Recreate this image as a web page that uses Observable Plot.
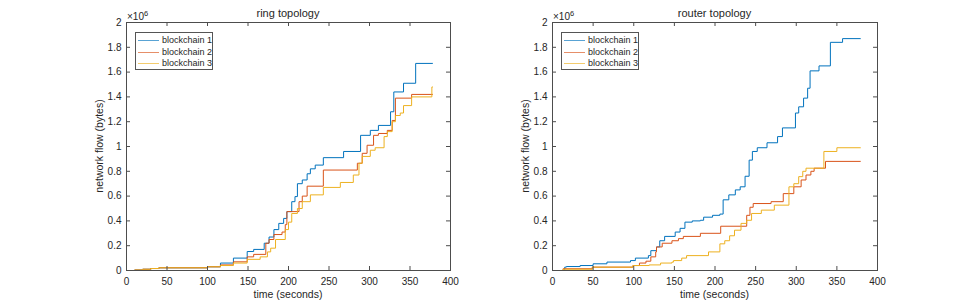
<!DOCTYPE html>
<html><head><meta charset="utf-8">
<script src="https://cdn.jsdelivr.net/npm/d3@7"></script>
<script src="https://cdn.jsdelivr.net/npm/@observablehq/plot@0.6"></script>
<style>
body{margin:0;background:#fff;}
#wrap{position:relative;width:969px;height:304px;font-family:"Liberation Sans",Arial,sans-serif;color:#262626;overflow:hidden;}
.abs{position:absolute;white-space:nowrap;}
.title{font-size:11px;line-height:11px;text-align:center;}
.xlab{font-size:10.5px;line-height:11px;text-align:center;}
.ylab{font-size:10.5px;line-height:11px;text-align:center;transform:translate(-50%,-50%) rotate(-90deg);}
.expo{font-size:10px;line-height:10px;}
.expo span{position:relative;top:-4px;font-size:7.5px;}
.legend{box-sizing:border-box;border:1px solid #555;background:#fff;font-size:9px;padding-top:2px;}
.row{height:11.6px;line-height:11.6px;display:flex;align-items:center;}
.sw{display:inline-block;width:22px;height:0;border-top:1.5px solid;opacity:0.65;margin-left:2px;margin-right:3px;}
</style>
</head><body><div id="wrap"></div>
<script>
// ---- data (values in units of 10^6 bytes) ----
const seriesNames = ["blockchain 1", "blockchain 2", "blockchain 3"];
const seriesColors = ["#0072BD", "#D95319", "#EDB120"];
const xTicks = [0, 50, 100, 150, 200, 250, 300, 350, 400];
const yTicks = [0, 0.2, 0.4, 0.6, 0.8, 1, 1.2, 1.4, 1.6, 1.8, 2];
const panelTitles = ["ring topology", "router topology"];

// ring topology
const ringT1 = [0,10,20,30,40,100,116,132,149,157,170,176,182,188,194,198,204,208,211,217,223,227,233,243,268,289,301,311,326,330,342,357,378];
const ringV1 = [0,0.004,0.01,0.016,0.022,0.03,0.06,0.10,0.153,0.17,0.22,0.27,0.33,0.38,0.42,0.475,0.555,0.596,0.70,0.73,0.78,0.82,0.85,0.91,0.96,1.09,1.13,1.17,1.28,1.44,1.51,1.67,1.67];
const ringT2 = [0,10,20,30,40,100,116,132,149,157,172,176,182,192,196,198,213,217,223,243,285,291,297,305,311,322,328,332,352,378];
const ringV2 = [0,0.004,0.01,0.016,0.022,0.03,0.045,0.07,0.11,0.13,0.22,0.25,0.29,0.31,0.37,0.475,0.555,0.6,0.68,0.81,0.865,0.945,1.01,1.09,1.105,1.13,1.21,1.39,1.42,1.42];
const ringT3 = [0,10,20,30,40,100,116,132,149,165,174,178,184,196,200,204,211,217,227,243,264,280,287,291,301,307,318,322,328,332,338,342,352,377,378];
const ringV3 = [0,0.004,0.01,0.016,0.022,0.03,0.04,0.06,0.09,0.11,0.15,0.18,0.25,0.33,0.39,0.46,0.50,0.555,0.61,0.67,0.71,0.77,0.865,0.92,0.97,0.99,1.08,1.12,1.2,1.25,1.27,1.33,1.40,1.48,1.48];

// router topology
const routerT1 = [0,13,15,17,34,50,67,96,102,118,121,128,132,138,151,157,163,172,182,186,197,206,210,217,225,231,237,242,246,252,264,277,283,299,303,309,314,317,328,342,357,379];
const routerV1 = [0,0,0.027,0.032,0.04,0.054,0.068,0.08,0.10,0.12,0.16,0.19,0.24,0.275,0.31,0.34,0.39,0.40,0.405,0.43,0.445,0.455,0.57,0.61,0.65,0.675,0.76,0.89,0.96,0.99,1.03,1.08,1.15,1.27,1.32,1.39,1.47,1.61,1.65,1.84,1.87,1.87];
const routerT2 = [0,13,49,99,107,115,121,127,128,135,147,155,161,182,207,239,243,247,269,284,297,306,312,318,322,336,379];
const routerV2 = [0,0.014,0.027,0.04,0.06,0.075,0.11,0.15,0.19,0.22,0.24,0.257,0.275,0.30,0.357,0.445,0.51,0.54,0.555,0.62,0.675,0.73,0.77,0.80,0.825,0.88,0.88];
const routerT3 = [0,13,49,99,119,133,147,149,159,165,192,206,212,218,224,232,239,245,257,273,291,297,303,308,312,334,350,379];
const routerV3 = [0,0.01,0.027,0.04,0.045,0.06,0.068,0.08,0.10,0.12,0.15,0.215,0.24,0.28,0.325,0.38,0.405,0.46,0.487,0.527,0.675,0.70,0.757,0.80,0.825,0.96,0.99,0.99];

// ---- build ----
function rows(ts, vs, s) { return ts.map((t, i) => ({t, v: vs[i], s})); }
const panels = [
  {title: panelTitles[0], left: 0, width: 484, ml: 126, mr: 34,
   data: [...rows(ringT1, ringV1, seriesNames[0]), ...rows(ringT2, ringV2, seriesNames[1]), ...rows(ringT3, ringV3, seriesNames[2])]},
  {title: panelTitles[1], left: 484, width: 485, ml: 68, mr: 92,
   data: [...rows(routerT1, routerV1, seriesNames[0]), ...rows(routerT2, routerV2, seriesNames[1]), ...rows(routerT3, routerV3, seriesNames[2])]}
];
const MT = 22, MB = 34, H = 304;
const wrap = document.getElementById("wrap");
const fmt = d => String(+d.toFixed(1));

for (const p of panels) {
  const innerW = p.width - p.ml - p.mr, innerH = H - MT - MB;
  const tickCol = "#4d4d4d";
  const svg = Plot.plot({
    width: p.width, height: H,
    marginLeft: p.ml, marginRight: p.mr, marginTop: MT, marginBottom: MB,
    style: {fontFamily: "Liberation Sans, Arial, sans-serif", fontSize: "10px", color: "#262626", background: "transparent", overflow: "visible"},
    x: {domain: [0, 400], label: null},
    y: {domain: [0, 2], label: null},
    color: {domain: seriesNames, range: seriesColors},
    marks: [
      Plot.line(p.data, {x: "t", y: "v", z: "s", stroke: "s", curve: "step-after", strokeWidth: 1}),
      Plot.frame({stroke: tickCol, strokeWidth: 1}),
      Plot.tickX(xTicks, {x: d => d, insetTop: innerH - 4, stroke: tickCol}),
      Plot.tickX(xTicks, {x: d => d, insetBottom: innerH - 4, stroke: tickCol}),
      Plot.tickY(yTicks, {y: d => d, insetRight: innerW - 4, stroke: tickCol}),
      Plot.tickY(yTicks, {y: d => d, insetLeft: innerW - 4, stroke: tickCol}),
      Plot.axisX({ticks: xTicks, tickSize: 0, tickPadding: 7, label: null, tickFormat: fmt}),
      Plot.axisY({ticks: yTicks, tickSize: 0, tickPadding: 5, label: null, tickFormat: fmt})
    ]
  });
  svg.style.position = "absolute";
  svg.style.left = p.left + "px";
  svg.style.top = "0px";
  wrap.appendChild(svg);

  const ax = p.left + p.ml; // axes left in page px
  const t = document.createElement("div");
  t.className = "abs title";
  t.style.left = ax + "px"; t.style.width = innerW + "px"; t.style.top = "8px";
  t.textContent = p.title;
  wrap.appendChild(t);

  const xl = document.createElement("div");
  xl.className = "abs xlab";
  xl.style.left = ax + "px"; xl.style.width = innerW + "px"; xl.style.top = "289px";
  xl.textContent = "time (seconds)";
  wrap.appendChild(xl);

  const yl = document.createElement("div");
  yl.className = "abs ylab";
  yl.style.left = (ax - 27) + "px"; yl.style.top = (MT + innerH / 2) + "px";
  yl.textContent = "network flow (bytes)";
  wrap.appendChild(yl);

  const ex = document.createElement("div");
  ex.className = "abs expo";
  ex.style.left = (ax + 1) + "px"; ex.style.top = "12px";
  ex.innerHTML = "\u00d710<span>6</span>";
  wrap.appendChild(ex);

  const lg = document.createElement("div");
  lg.className = "abs legend";
  lg.style.left = (ax + 9) + "px"; lg.style.top = "32px";
  lg.style.width = "78px"; lg.style.height = "38px";
  seriesNames.forEach((n, i) => {
    const r = document.createElement("div");
    r.className = "row";
    const sw = document.createElement("span");
    sw.className = "sw"; sw.style.borderTopColor = seriesColors[i];
    r.appendChild(sw);
    r.appendChild(document.createTextNode(n));
    lg.appendChild(r);
  });
  wrap.appendChild(lg);
}
</script>
</body></html>
